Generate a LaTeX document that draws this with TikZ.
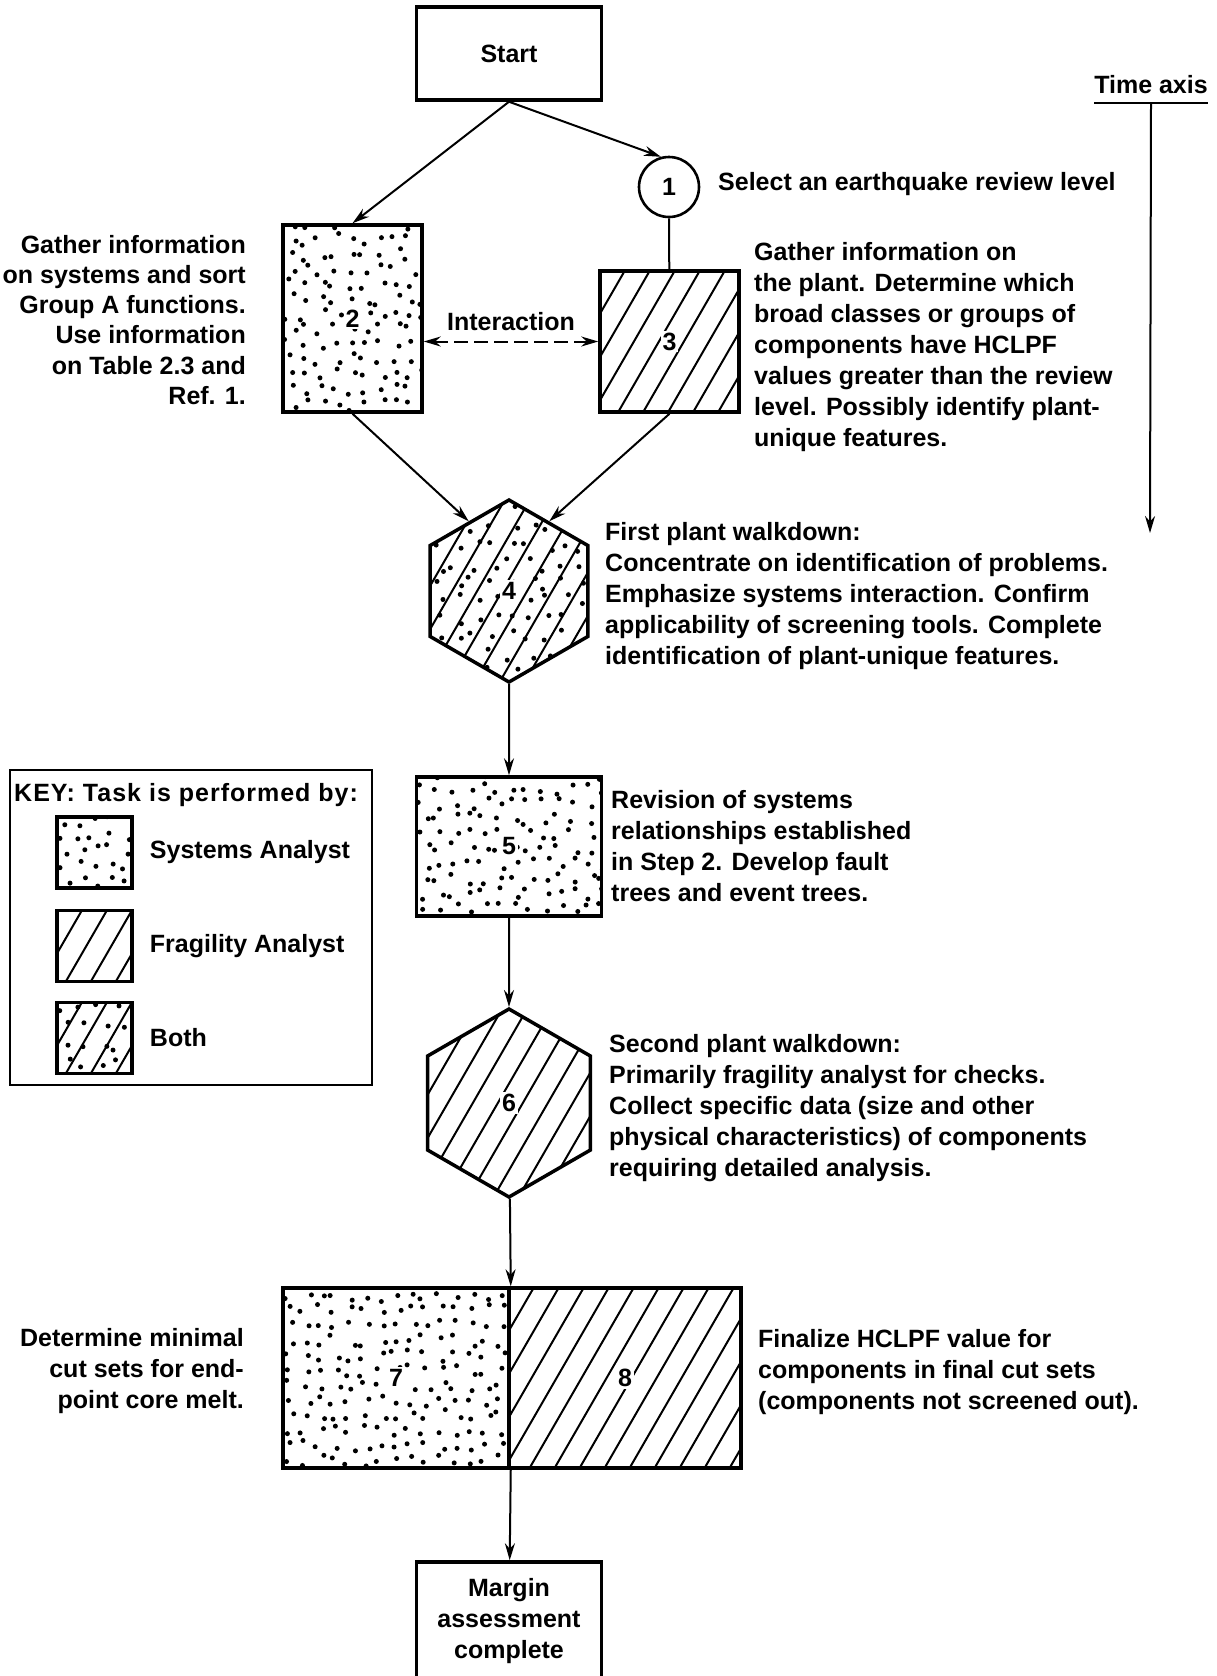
\documentclass[tikz,border=0pt]{standalone}
\usepackage{fontspec}
\setmainfont{Liberation Sans}
\usetikzlibrary{arrows.meta,shapes.geometric,calc}

% scattered dots (systems analyst)
\newcommand\sprinkle[1]{%
  \pgfpointanchor{path picture bounding box}{south west}\pgfgetlastxy\sx\sy
  \pgfpointanchor{path picture bounding box}{north east}\pgfgetlastxy\ex\ey
  \pgfmathtruncatemacro\nx{(\ex-\sx)/#1}
  \pgfmathtruncatemacro\ny{(\ey-\sy)/#1}
  \foreach \i in {0,...,\nx}
    \foreach \j in {0,...,\ny}
      \fill ({\sx+(\i+0.1+0.8*rnd)*#1pt},{\sy+(\j+0.1+0.8*rnd)*#1pt}) circle (2.5pt);
}
% slanted lines (fragility analyst)
\newcommand\hatch[1]{%
  \pgfpointanchor{path picture bounding box}{south west}\pgfgetlastxy\sx\sy
  \pgfpointanchor{path picture bounding box}{north east}\pgfgetlastxy\ex\ey
  \pgfmathtruncatemacro\nh{((\ex-\sx)+0.58*(\ey-\sy))/#1+1}
  \foreach \k in {0,...,\nh}
    \draw[line width=2pt] ({\sx-0.58*(\ey-\sy)+\k*#1pt},\sy) -- ++(60:{1.16*(\ey-\sy)});
}
% step number with a clear patch behind it
\newcommand\stepno[1]{{\fboxsep=2pt\colorbox{white}{#1}}}

\tikzstyle{box}=[draw,rectangle,line width=3.5pt,inner sep=0pt]
\tikzstyle{sysbox}=[box,path picture={\sprinkle{15}}]
\tikzstyle{fragbox}=[box,path picture={\hatch{25}}]
\tikzstyle{bothbox}=[box,path picture={\hatch{25}\sprinkle{18}}]
\tikzstyle{hexa}=[regular polygon,regular polygon sides=6,shape border rotate=30,inner sep=0pt]
\tikzstyle{edge} = [draw,line width=2pt,->]
\tikzstyle{note} = [inner sep=0pt]

\begin{document}
\begin{tikzpicture}[x=1pt,y=-1pt,>={Stealth[length=17pt,width=10pt]},
  font=\fontsize{25}{31}\selectfont\bfseries]
\pgfmathsetseed{4711}
\useasboundingbox (0,0) rectangle (1217,1676);

% steps
\node[box,minimum width=185pt,minimum height=93pt] (start) at (509,53.5) {Start};
\node[circle,draw,line width=2.6pt,minimum size=60pt,inner sep=0pt] (c1) at (669,187) {1};
\node[sysbox,minimum width=139pt,minimum height=187pt] (n2) at (352.5,318.5) {\stepno{2}};
\node[fragbox,minimum width=139pt,minimum height=141pt] (n3) at (669.5,341.5) {\stepno{3}};
\node[bothbox,hexa,minimum size=182pt] (n4) at (509,591) {\stepno{4}};
\node[sysbox,minimum width=185pt,minimum height=139pt] (n5) at (509,846.5) {\stepno{5}};
\node[fragbox,hexa,minimum size=188pt] (n6) at (509,1103) {\stepno{6}};
\node[sysbox,minimum width=226pt,minimum height=180pt] (n7) at (396,1378) {\stepno{7}};
\node[fragbox,minimum width=232pt,minimum height=180pt] (n8) at (625,1378) {\stepno{8}};
\node[box,minimum width=185pt,minimum height=118pt,align=center] (done) at (509,1621) {Margin\\assessment\\complete};

% connect steps
\path[edge] (start.south) -- (n2.north);
\path[edge] (start.south) -- (c1.105);
\draw[line width=2pt] (c1) -- (n3);
\path[edge] (n2.south) -- (n4.120);
\path[edge] (n3.south) -- (n4.60);
\foreach \source/ \dest in {n4/n5, n5/n6}
    \path[edge] (\source) -- (\dest);
\path[edge] (n6) -- (n7.north east);
\path[edge] (n7.south east) -- (done);
\path[edge,<->,dashed,dash pattern=on 14pt off 6pt] (n3.west) -- node[above=6pt] {Interaction} (n3.west -| n2.east);

% descriptions
\node[note,anchor=west] (t1) at (718,184) {Select an earthquake review level};
\node[note,anchor=north east,align=right,font=\fontsize{25}{30.2}\selectfont\bfseries] (t2) at (246,235) {Gather information\\on systems and sort\\Group A functions.\\Use information\\on Table 2.3 and\\Ref. 1.};
\node[note,anchor=north west,align=left] (t3) at (754,242) {Gather information on\\the plant.  Determine which\\broad classes or groups of\\components have HCLPF\\values greater than the review\\level.  Possibly identify plant-\\unique features.};
\node[note,anchor=north west,align=left] (t4) at (605,522) {First plant walkdown:\\Concentrate on identification of problems.\\Emphasize systems interaction.  Confirm\\applicability of screening tools.  Complete\\identification of plant-unique features.};
\node[note,anchor=north west,align=left] (t5) at (611,790) {Revision of systems\\relationships established\\in Step 2.  Develop fault\\trees and event trees.};
\node[note,anchor=north west,align=left] (t6) at (609,1034) {Second plant walkdown:\\Primarily fragility analyst for checks.\\Collect specific data (size and other\\physical characteristics) of components\\requiring detailed analysis.};
\node[note,anchor=north east,align=right] (t7) at (244,1328) {Determine minimal\\cut sets for end-\\point core melt.};
\node[note,anchor=north west,align=left] (t8) at (758,1329) {Finalize HCLPF value for\\components in final cut sets\\(components not screened out).};

% time axis
\node[note] (taxis) at (1151,85) {Time axis};
\coordinate (tend) at (1150,533);
\draw[line width=2pt] ([yshift=-9pt]taxis.south west) -- ([yshift=-9pt]taxis.south east);
\path[edge] ([yshift=-9pt]taxis.south) -- (tend);

% key
\node[draw,line width=2.2pt,minimum width=362pt,minimum height=315pt] (keybox) at (191,927.5) {};
\node[note,anchor=west,font=\fontsize{25}{31}\selectfont\bfseries\addfontfeatures{LetterSpace=4}] (keytitle) at (14,795) {KEY: Task is performed by:};
\foreach \pos/ \name/ \kind/ \txt in {{(94.5,852.5)/keysys/sysbox/Systems Analyst},{(94.5,946)/keyfrag/fragbox/Fragility Analyst},{(94.5,1038)/keyboth/bothbox/Both}}
{
    \node[\kind,minimum width=75pt,minimum height=71pt] (\name) at \pos {};
    \node[note,anchor=west,xshift=16pt] at (\name.east) {\txt};
}
\end{tikzpicture}
\end{document}
